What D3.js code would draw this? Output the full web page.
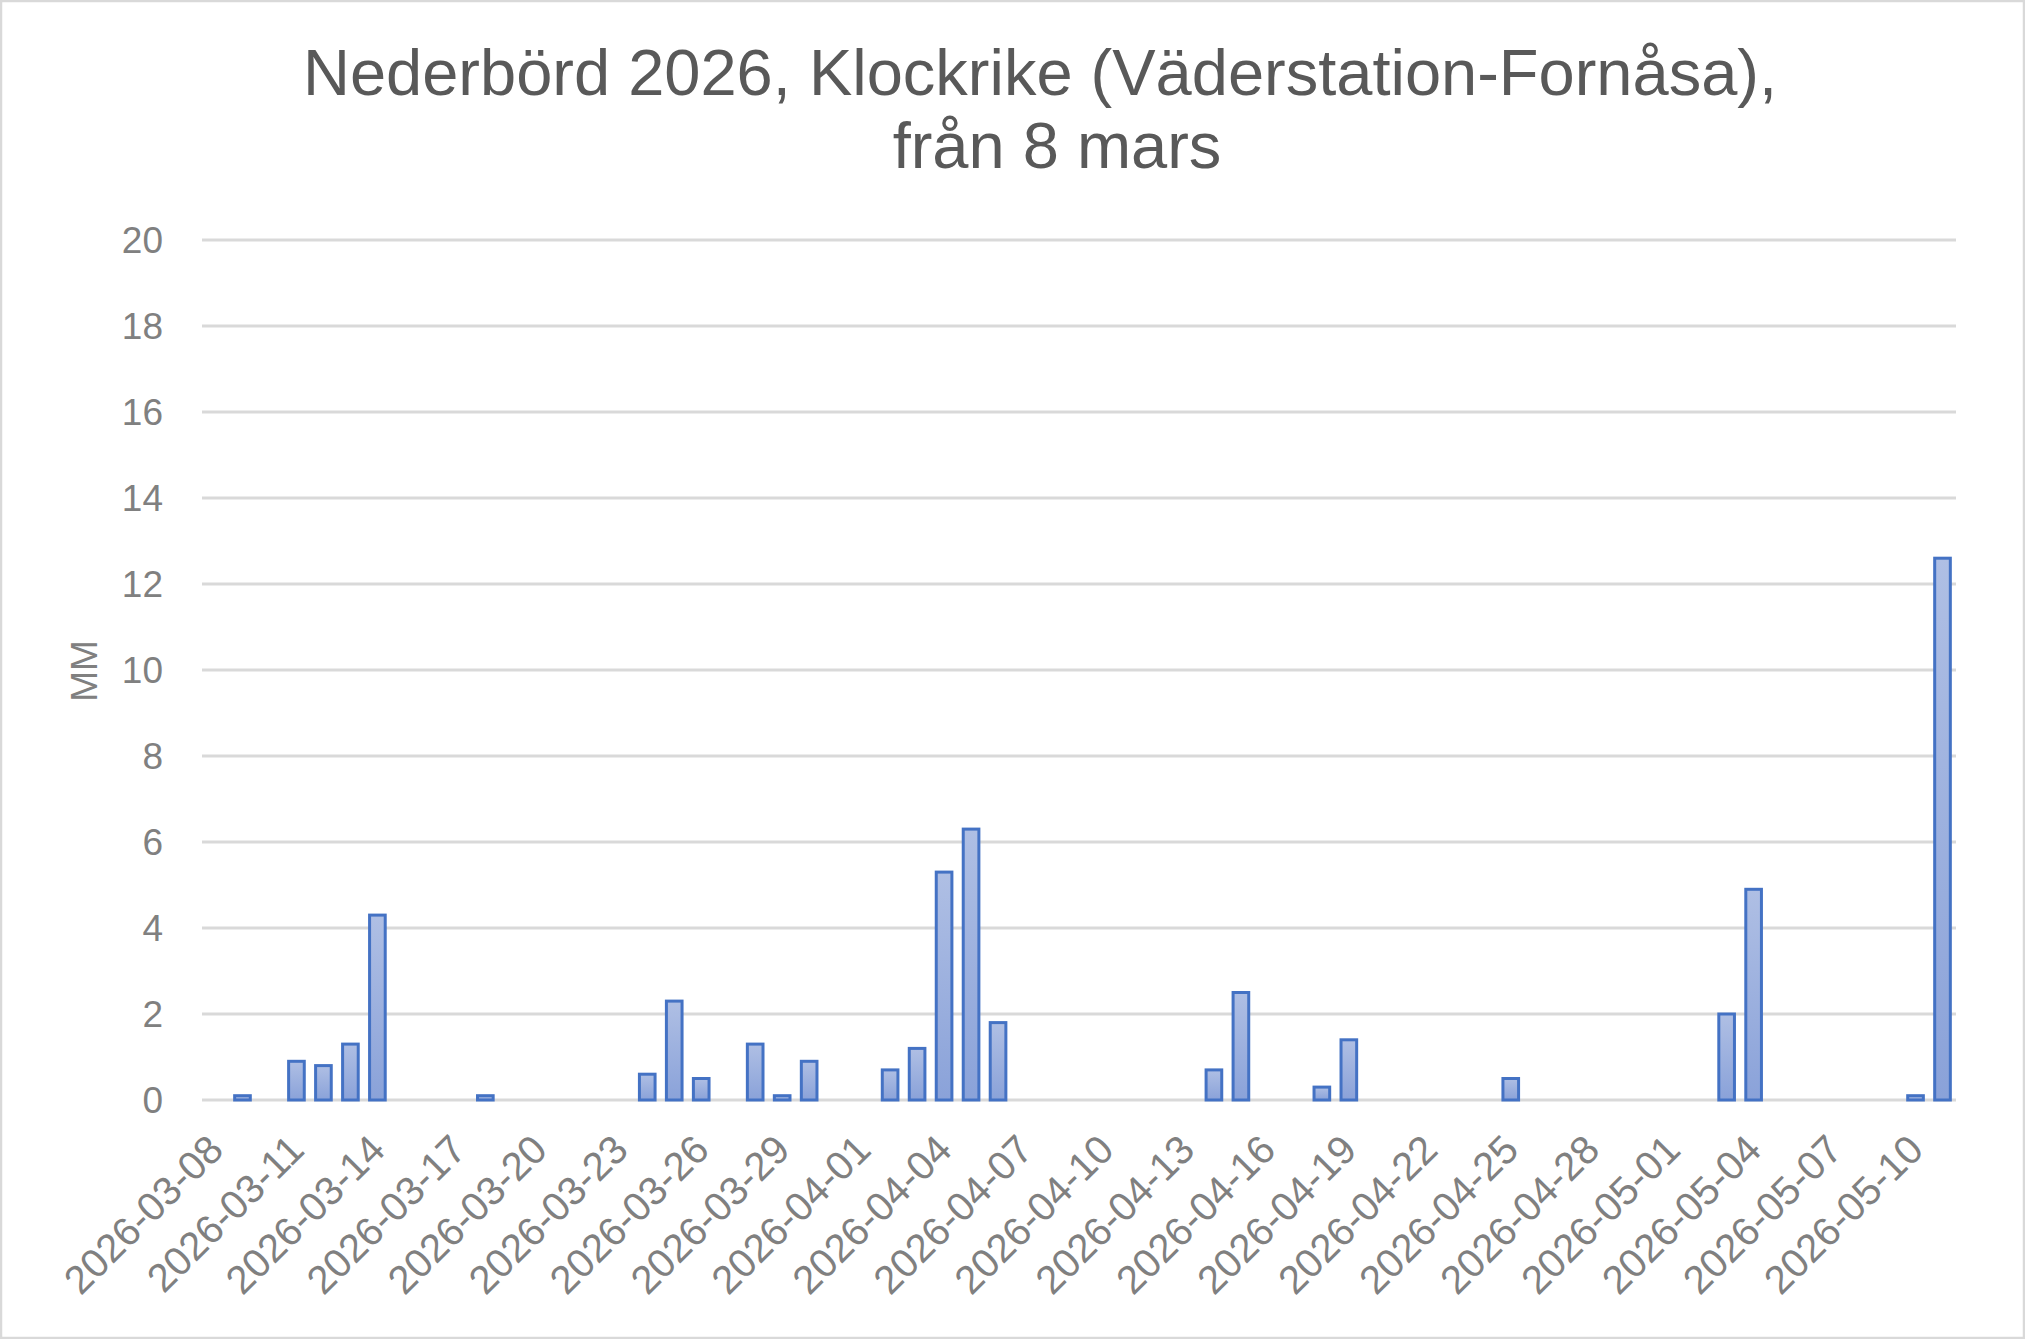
<!DOCTYPE html>
<html>
<head>
<meta charset="utf-8">
<script src="https://cdn.jsdelivr.net/npm/d3@7"></script>
<style>
  body { margin: 0; background: #fff; }
  svg { display: block; font-family: "Liberation Sans", Arial, sans-serif; }
</style>
</head>
<body>
<svg id="chart" width="2025" height="1339"></svg>
<script>
// rain days only, all other days are 0 mm
var rainDates = ["2026-03-09", "2026-03-11", "2026-03-12", "2026-03-13", "2026-03-14",
  "2026-03-18", "2026-03-24", "2026-03-25", "2026-03-26", "2026-03-28", "2026-03-29",
  "2026-03-30", "2026-04-02", "2026-04-03", "2026-04-04", "2026-04-05", "2026-04-06",
  "2026-04-14", "2026-04-15", "2026-04-18", "2026-04-19", "2026-04-25", "2026-05-03",
  "2026-05-04", "2026-05-10", "2026-05-11"];
var rainMM = [0.1, 0.9, 0.8, 1.3, 4.3,
  0.1, 0.6, 2.3, 0.5, 1.3, 0.1,
  0.9, 0.7, 1.2, 5.3, 6.3, 1.8,
  0.7, 2.5, 0.3, 1.4, 0.5, 2.0,
  4.9, 0.1, 12.6];
var tickDates = ["2026-03-08", "2026-03-11", "2026-03-14", "2026-03-17", "2026-03-20",
  "2026-03-23", "2026-03-26", "2026-03-29", "2026-04-01", "2026-04-04", "2026-04-07",
  "2026-04-10", "2026-04-13", "2026-04-16", "2026-04-19", "2026-04-22", "2026-04-25",
  "2026-04-28", "2026-05-01", "2026-05-04", "2026-05-07", "2026-05-10"];
var yTicks = [0, 2, 4, 6, 8, 10, 12, 14, 16, 18, 20];
var titleLines = ["Nederbörd 2026, Klockrike (Väderstation-Fornåsa),", "från 8 mars"];

var W = 2025, H = 1339;
var PLOT_L = 202, PLOT_R = 1956, PLOT_T = 240, PLOT_B = 1100;
var fmt = d3.timeFormat("%Y-%m-%d");

// every day of the date axis
var allDays = d3.timeDay.range(new Date(2026, 2, 8), new Date(2026, 4, 12)).map(fmt);

var x = d3.scaleBand()
    .domain(allDays)
    .range([PLOT_L, PLOT_R])
    .paddingInner(0.42)
    .paddingOuter(0.21);

var y = d3.scaleLinear()
    .domain([0, 20])
    .range([PLOT_B, PLOT_T]);

var svg = d3.select("#chart");

// bar gradient
var grad = svg.append("defs").append("linearGradient")
    .attr("id", "barFill")
    .attr("x1", 0).attr("y1", 0).attr("x2", 0).attr("y2", 1);
grad.append("stop").attr("offset", "0%").attr("stop-color", "#afbfe4");
grad.append("stop").attr("offset", "100%").attr("stop-color", "#8aa2d9");

// chart border
svg.append("rect")
    .attr("x", 1).attr("y", 1)
    .attr("width", W - 2).attr("height", H - 2)
    .style("fill", "#fff")
    .style("stroke", "#d9d9d9")
    .style("stroke-width", 2.5);

// title
svg.append("g").selectAll("text")
    .data(titleLines)
    .enter().append("text")
    .attr("x", function(d, i) { return i === 0 ? 1040 : 1057; })
    .attr("y", function(d, i) { return 95 + i * 73; })
    .attr("text-anchor", "middle")
    .style("font-size", "65px")
    .style("fill", "#595959")
    .text(function(d) { return d; });

// gridlines
svg.append("g").selectAll("line")
    .data(yTicks)
    .enter().append("line")
    .attr("x1", PLOT_L).attr("x2", PLOT_R)
    .attr("y1", function(d) { return y(d); })
    .attr("y2", function(d) { return y(d); })
    .style("stroke", "#d9d9d9")
    .style("stroke-width", 2.8);

// y axis labels
var yAxis = svg.append("g")
    .attr("transform", "translate(" + (PLOT_L - 39) + ",0)")
    .call(d3.axisLeft(y).tickValues(yTicks).tickSize(0).tickPadding(0));
yAxis.select(".domain").remove();
yAxis.selectAll("text")
    .attr("dy", "0.35em")
    .style("font-size", "37px")
    .style("font-family", "'Liberation Sans', Arial, sans-serif")
    .style("fill", "#808080");

// y axis title
svg.append("text")
    .attr("transform", "translate(97," + 671 + ") rotate(-90)")
    .attr("text-anchor", "middle")
    .style("font-size", "37px")
    .style("fill", "#808080")
    .text("MM");

// x axis labels
var xAxis = svg.append("g")
    .attr("transform", "translate(0," + PLOT_B + ")")
    .call(d3.axisBottom(x).tickValues(tickDates).tickSize(0).tickPadding(0));
xAxis.select(".domain").remove();
xAxis.selectAll("text")
    .attr("text-anchor", "end")
    .attr("dy", "0.35em")
    .attr("y", 0)
    .attr("transform", "translate(0,42) rotate(-45)")
    .style("font-size", "40px")
    .style("font-family", "'Liberation Sans', Arial, sans-serif")
    .style("fill", "#808080");

// bars
svg.append("g").selectAll("rect")
    .data(rainDates)
    .enter().append("rect")
    .attr("class", "bar")
    .attr("x", function(d) { return x(d); })
    .attr("width", x.bandwidth())
    .attr("y", function(d, i) { return y(rainMM[i]); })
    .attr("height", function(d, i) { return PLOT_B - y(rainMM[i]); })
    .style("fill", "url(#barFill)")
    .style("stroke", "#4472c4")
    .style("stroke-width", 3);
</script>
</body>
</html>
